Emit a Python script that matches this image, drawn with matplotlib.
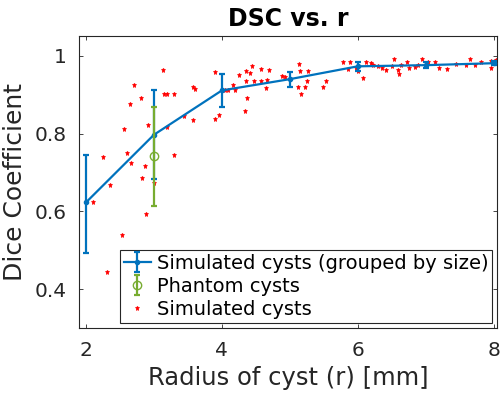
import matplotlib
matplotlib.use("Agg")
import matplotlib.pyplot as plt
import numpy as np

# grouped simulated cysts (mean +/- error)
group_r = [2, 3, 4, 5, 6, 7, 8]
group_dsc = [0.623, 0.797, 0.911, 0.940, 0.973, 0.976, 0.981]
group_err_lo = [0.131, 0.114, 0.043, 0.020, 0.013, 0.008, 0.005]
group_err_hi = [0.121, 0.114, 0.043, 0.018, 0.012, 0.008, 0.005]

# phantom cysts
phantom_r = [3]
phantom_dsc = [0.742]
phantom_err_lo = [0.128]
phantom_err_hi = [0.126]

# individual simulated cysts
sim_r = [2.10, 2.25, 2.36, 2.53, 2.31, 2.56, 2.61, 2.66, 2.65, 2.71, 2.81, 2.88,
         2.82, 2.87, 2.92, 3.00, 3.13, 3.15, 3.19, 3.29, 3.19, 3.30, 3.44, 3.58,
         3.61, 3.58, 3.90, 3.90, 3.96, 4.05, 4.17, 4.19, 4.25, 4.36, 4.37, 4.34,
         4.35, 4.45, 4.47, 4.57, 4.58, 4.65, 4.70, 4.66, 4.88, 4.93, 5.14, 5.15,
         5.17, 5.25, 5.27, 5.23, 5.12, 5.49, 5.54, 5.78, 5.88, 5.86, 5.97, 6.00,
         6.08, 6.12, 6.19, 6.23, 6.35, 6.42, 6.51, 6.54, 6.59, 6.61, 6.64, 6.72,
         6.76, 6.89, 6.94, 7.04, 7.13, 7.20, 7.32, 7.59, 7.65, 7.72, 7.81, 7.96,
         7.96, 8.04, 6.30, 6.85, 7.45, 4.09, 4.42]
sim_dsc = [0.625, 0.739, 0.667, 0.539, 0.444, 0.813, 0.749, 0.725, 0.877, 0.926,
           0.891, 0.594, 0.686, 0.716, 0.821, 0.674, 0.964, 0.903, 0.902, 0.903,
           0.816, 0.744, 0.846, 0.920, 0.915, 0.836, 0.958, 0.838, 0.849, 0.911,
           0.926, 0.911, 0.951, 0.934, 0.891, 0.859, 0.962, 0.974, 0.936, 0.966,
           0.934, 0.917, 0.964, 0.938, 0.949, 0.945, 0.979, 0.960, 0.902, 0.936,
           0.962, 0.920, 0.920, 0.919, 0.936, 0.985, 0.984, 0.967, 0.968, 0.960,
           0.944, 0.983, 0.981, 0.977, 0.968, 0.964, 0.973, 0.991, 0.964, 0.953,
           0.977, 0.984, 0.968, 0.977, 0.991, 0.983, 0.985, 0.968, 0.966, 0.977,
           0.991, 0.977, 0.983, 0.987, 0.968, 0.990, 0.975, 0.972, 0.978, 0.911,
           0.957]

x_ticks = [2, 4, 6, 8]
y_ticks = [0.4, 0.6, 0.8, 1.0]
y_ticklabels = ["0.4", "0.6", "0.8", "1"]

blue = "#0072BD"
green = "#77AC30"
red = "#FF0000"
dark = "#262626"

plt.rcParams['font.family'] = ['DejaVu Sans']
fig = plt.figure(figsize=(5.0, 3.96), dpi=100)
ax = fig.add_axes([0.158, 0.1717, 0.836, 0.7374])

h1 = ax.errorbar(group_r, group_dsc, yerr=[group_err_lo, group_err_hi], color=blue,
                 marker='.', markersize=6, linewidth=1.6, capsize=2.5, capthick=1.6,
                 elinewidth=1.6, label="Simulated cysts (grouped by size)", zorder=3)
h2 = ax.errorbar(phantom_r, phantom_dsc, yerr=[phantom_err_lo, phantom_err_hi], color=green,
                 marker='o', markersize=6, mfc='none', linestyle='none', linewidth=1.6,
                 capsize=2.5, capthick=1.6, elinewidth=1.6, label="Phantom cysts", zorder=4)
h3, = ax.plot(sim_r, sim_dsc, linestyle='none', marker='*', markersize=3.6, color=red,
              markeredgewidth=0.5, label="Simulated cysts", zorder=2)

ax.set_xlim(1.897, 8.05)
ax.set_ylim(0.3, 1.051)
ax.set_xticks(x_ticks)
ax.set_yticks(y_ticks)
ax.set_yticklabels(y_ticklabels)
ax.tick_params(direction='in', top=True, right=True, length=3, width=0.6,
               colors=dark, labelsize=14.5)
ax.tick_params(axis='y', pad=9)
ax.tick_params(axis='x', pad=9)
for s in ax.spines.values():
    s.set_color(dark)
    s.set_linewidth(0.8)

ax.set_xlabel("Radius of cyst (r) [mm]", fontsize=17.5, color=dark, labelpad=5)
ax.set_ylabel("Dice Coefficient", fontsize=18, color=dark, labelpad=5)
ax.set_title("DSC vs. r", fontsize=17, fontweight='bold', color='black', pad=7)

leg = ax.legend([h1, h2, h3],
                ["Simulated cysts (grouped by size)", "Phantom cysts", "Simulated cysts"],
                loc='lower right', fontsize=14, frameon=True, fancybox=False,
                edgecolor=dark, borderpad=0.2, labelspacing=0.22, handlelength=1.4,
                handletextpad=0.3, borderaxespad=0.25, framealpha=1)
leg.get_frame().set_linewidth(0.8)

fig.savefig("out.png", dpi=100)
